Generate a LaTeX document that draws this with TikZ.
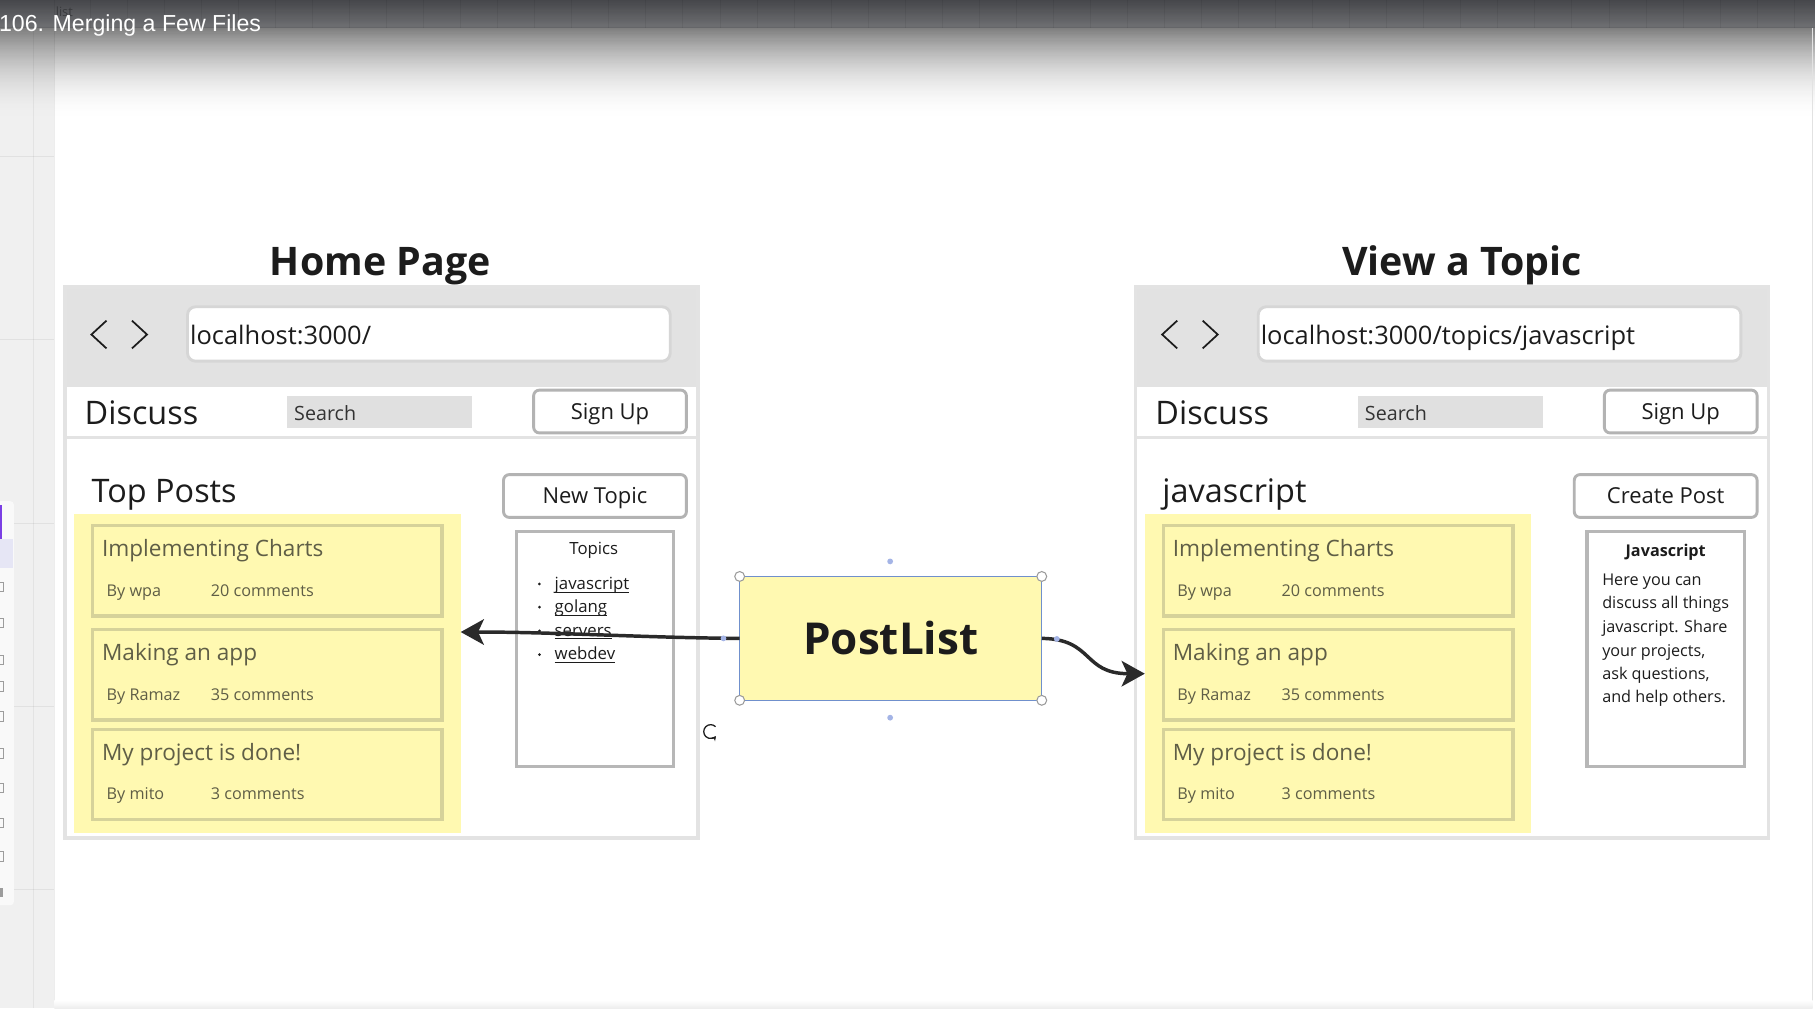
\documentclass[tikz,border=0pt]{standalone}
\usepackage{fontspec}
\setmainfont{Open Sans}
\newfontfamily\barfont{Liberation Sans}
\usetikzlibrary{arrows.meta}

\newcommand\setfs[1]{\fontsize{#1}{#1}\selectfont}
% underlined link text
\newcommand\linktext[1]{\setbox0=\hbox{#1}\rlap{\rule[-2.8pt]{\wd0}{0.8pt}}\box0}

\definecolor{bartop}{HTML}{46474B}
\definecolor{barlow}{HTML}{6E6F72}
\definecolor{fadetop}{HTML}{7E7E7E}
\definecolor{sidebar}{HTML}{F0F0F0}
\definecolor{gridline}{HTML}{E2E2E2}
\definecolor{frameline}{HTML}{E3E3E3}
\definecolor{headerfill}{HTML}{E2E2E2}
\definecolor{urlline}{HTML}{D6D6D6}
\definecolor{btnline}{HTML}{B3B3B3}
\definecolor{boxline}{HTML}{B7B7B7}
\definecolor{searchfill}{HTML}{E0E0E0}
\definecolor{sticky}{HTML}{FFF9B1}
\definecolor{cardline}{HTML}{D6D29A}
\definecolor{cardtext}{HTML}{5F5E46}
\definecolor{ink}{HTML}{1C1C1C}
\definecolor{arrowink}{HTML}{2A2A2A}
\definecolor{selblue}{HTML}{7090CC}
\definecolor{dotblue}{HTML}{A4B4E6}
\definecolor{handlegrey}{HTML}{9A9A9A}
\definecolor{toolgrey}{HTML}{9C9C9C}
\definecolor{toolpurple}{HTML}{7B3FE4}
\definecolor{toolhover}{HTML}{E6E6F5}

\tikzset{
  box/.style={anchor=north west, inner sep=0pt, outer sep=0pt},
  panelframe/.style={box, draw=frameline, line width=3pt, fill=white},
  headerbar/.style={box, fill=headerfill},
  urlbox/.style={box, draw=urlline, line width=2.5pt, fill=white, rounded corners=7pt},
  urltext/.style={anchor=base west, inner sep=0pt, text=ink, font=\setfs{22}},
  chevron/.style={draw=ink, line width=1.5pt, line join=miter},
  separator/.style={draw=frameline, line width=3pt},
  brand/.style={anchor=base west, inner sep=0pt, text=ink, font=\setfs{28}},
  searchbox/.style={box, fill=searchfill},
  searchtext/.style={anchor=base west, inner sep=0pt, text=ink!90, font=\setfs{17}},
  button/.style={box, draw=btnline, line width=2.5pt, fill=white, rounded corners=5pt, text=ink, font=\setfs{19}, text height=13pt, text depth=0pt},
  pagetitle/.style={anchor=base, inner sep=0pt, text=ink, font=\bfseries\setfs{34}},
  sectionhead/.style={anchor=base west, inner sep=0pt, text=ink, font=\setfs{28}},
  stickyarea/.style={box, fill=sticky},
  card/.style={box, draw=cardline, line width=3pt},
  cardtitle/.style={anchor=base west, inner sep=0pt, text=cardtext, font=\setfs{19.5}},
  cardmeta/.style={anchor=base west, inner sep=0pt, text=cardtext, font=\setfs{14}},
  sidebox/.style={box, draw=boxline, line width=3pt, fill=white},
  boxhead/.style={anchor=base, inner sep=0pt, text=ink, font=\setfs{14.5}},
  boxtext/.style={anchor=base west, inner sep=0pt, text=ink, font=\setfs{14}},
  topiclink/.style={anchor=base west, inner sep=0pt, text=ink, font=\setfs{14.5}},
  component/.style={box, draw=selblue, line width=1pt, fill=sticky, text=ink, font=\bfseries\setfs{38}},
  handle/.style={circle, draw=handlegrey, fill=white, line width=0.9pt, minimum size=8.5pt, inner sep=0pt},
  anchordot/.style={circle, fill=dotblue, minimum size=5pt, inner sep=0pt},
  flow/.style={draw=arrowink, line width=3pt, -{Stealth[length=20pt, width=22pt, inset=5pt]}},
}

% one post entry inside the yellow area
\newcommand\postcard[5]{%
  \node[card, minimum width=302pt, minimum height=78pt] (#1) at (80,#2) {};
  \node[cardtitle] (#1title) at (88,#2+27) {#3};
  \node[cardmeta] (#1by) at (92,#2+61) {#4};
  \node[cardmeta] (#1count) at (182,#2+61) {#5};
}

% browser window with nav bar and the list of posts
\newcommand\wirepage[3]{%
  \begin{scope}[xshift=#3]
    \node[panelframe, minimum width=547pt, minimum height=476pt] (#1frame) at (56,248) {};
    \node[headerbar, minimum width=544pt, minimum height=85pt] (#1header) at (57.5,249.5) {};
    \node[urlbox, minimum width=417pt, minimum height=47pt] (#1url) at (162,265) {};
    \node[urltext] (#1address) at (164,298) {#2};
    \draw[chevron] (92,277) -- (79,289) -- (92,301);
    \draw[chevron] (114,277) -- (127,289) -- (114,301);
    \draw[separator] (57.5,378) -- (601.5,378);
    \node[brand] (#1brand) at (73,367) {Discuss};
    \node[searchbox, minimum width=160pt, minimum height=28pt] (#1search) at (248,342) {};
    \node[searchtext] (#1searchlabel) at (254,363) {Search};
    \node[button, minimum width=132pt, minimum height=37pt] (#1signup) at (461,337) {Sign Up};
    \node[stickyarea, minimum width=334pt, minimum height=276pt] (#1posts) at (64,444) {};
    \postcard{#1cardA}{454}{Implementing Charts}{By wpa}{20 comments}
    \postcard{#1cardB}{544}{Making an app}{By Ramaz}{35 comments}
    \postcard{#1cardC}{630}{My project is done!}{By mito}{3 comments}
  \end{scope}
}

\begin{document}
\begin{tikzpicture}[x=1pt, y={(0pt,-1pt)}]
\useasboundingbox (0,0) rectangle (1568,871);
\fill[white] (0,0) rectangle (1568,871);

% left tool strip of the board
\fill[sidebar] (0,0) rectangle (47,871);

% title bar: dark band, then a fade into the canvas built from thin strips
\foreach \i in {0,...,23} {
  \pgfmathsetmacro\p{100*\i/23}
  \fill[barlow!\p!bartop] (0,\i) rectangle (1568,\i+1.2);
}
\foreach \i in {0,...,79} {
  \pgfmathsetmacro\p{100*(1-(1-\i/80)^2)}
  \fill[white!\p!fadetop] (47,24+\i) rectangle (1568,25.2+\i);
  \fill[sidebar!\p!fadetop] (0,24+\i) rectangle (47,25.2+\i);
}
\foreach \gx in {47,78,110,142,174,206,238,270,302,334,366,398,430,462,494,526,558,590,622,654,686,718,750,782,814,846,878,910,942,974,1006,1038,1070,1102,1134,1166,1198,1230,1262,1294,1326,1358,1390,1422,1454,1486,1518,1550}
  \draw[black, opacity=0.06, line width=0.8pt] (\gx,0) -- (\gx,24);
\draw[black, opacity=0.08, line width=0.8pt] (0,24) -- (1568,24);

% grid of the tool strip, seen through the fade
\draw[black, opacity=0.07, line width=1pt] (47,24) -- (47,871);
\draw[black, opacity=0.05, line width=0.8pt] (29,24) -- (29,871);
\foreach \gy in {135,293,452,610,768} \draw[black, opacity=0.06, line width=0.8pt] (0,\gy) -- (47,\gy);
\fill[white!60!sidebar, rounded corners=3pt] (-4,433) rectangle (12,782);
\fill[toolhover] (-2,466) rectangle (11,491);
\fill[toolpurple] (-2,436) rectangle (2,466);
\foreach \ty in {507,538,570,593,619,651,681,711,740} \draw[toolgrey, line width=0.9pt] (-3,\ty-4) rectangle (3,\ty+4);
\fill[toolgrey] (-3,767) rectangle (3,775);

\draw[gridline, line width=0.8pt] (1566,24) -- (1566,871);
\shade[top color=white, bottom color=gridline!60] (47,864) rectangle (1566,871);
\node[anchor=base west, inner sep=0pt, text=bartop!80!black, font=\setfs{11}] (boardtag) at (48,14) {list};
\node[anchor=base west, inner sep=0pt, text=white, font=\barfont\setfs{20}] (lesson) at (-1,27) {106. Merging a Few Files};

% page headings
\node[pagetitle] (homehead) at (328.5,238) {Home Page};
\node[pagetitle] (topichead) at (1263,238) {View a Topic};

% the two browser mock-ups
\wirepage{h}{localhost:3000/}{0pt}
\wirepage{t}{localhost:3000/topics/javascript}{925pt}

% home page: topic list
\node[sectionhead] (hsection) at (79,434) {Top Posts};
\node[button, minimum width=158pt, minimum height=37pt] (hnewtopic) at (435,410) {New Topic};
\node[sidebox, minimum width=136pt, minimum height=203pt] (htopics) at (446,459) {};
\node[boxhead] (htopicshead) at (513,479) {Topics};
\foreach \ly/\lt [count=\li] in {509/javascript,529/golang,549.5/servers,570/webdev} {
  \fill[ink] (466,\ly-4.5) circle (1.3);
  \node[topiclink] (hlink\li) at (479,\ly) {\linktext{\lt}};
}

% topic page: description box
\node[sectionhead] (tsection) at (1004,434) {javascript};
\node[button, minimum width=158pt, minimum height=37pt] (tcreate) at (1360,410) {Create Post};
\node[sidebox, minimum width=136pt, minimum height=203pt] (tabout) at (1371,459) {};
\node[boxhead, font=\bfseries\setfs{14}] (taboutHead) at (1439,481) {Javascript};
\foreach \ly/\lt [count=\li] in {506/Here you can,526/discuss all things,546.5/javascript. Share,567/{your projects,},587/{ask questions,},607/and help others.}
  \node[boxtext] (taboutline\li) at (1384,\ly) {\lt};

% shared component
\node[component, minimum width=261pt, minimum height=107pt] (postlist) at (639,498) {PostList};

\coordinate (homeIn) at (398,546);
\draw[flow] (postlist.west) .. controls (560,551) and (480,546) .. (homeIn);
\draw[flow] (postlist.east) .. controls (945,552) and (935,582) .. (tposts.west);

% selection handles around the component
\node[handle] (selNW) at (postlist.north west) {};
\node[handle] (selNE) at (postlist.north east) {};
\node[handle] (selSW) at (postlist.south west) {};
\node[handle] (selSE) at (postlist.south east) {};
\node[anchordot] (pinN) at (769,485) {};
\node[anchordot] (pinS) at (769,620) {};
\node[anchordot] (pinW) at (625,551.5) {};
\node[anchordot] (pinE) at (913,552) {};
% rotate grip
\draw[ink, line width=1.1pt, -{Stealth[length=4pt, width=4.5pt]}] (618.2,627.8) arc[start angle=-45, end angle=-320, radius=6];
\end{tikzpicture}
\end{document}
